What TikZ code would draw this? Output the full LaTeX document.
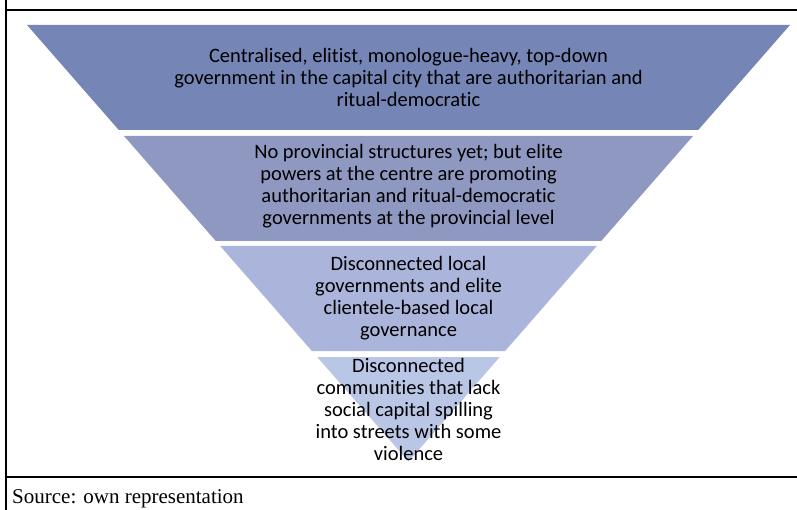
\documentclass[tikz,border=0pt]{standalone}
\usepackage{fontspec}
\setmainfont{Carlito}[Ligatures={NoCommon}]
\newfontfamily\srcfont{Liberation Serif}
\definecolor{bandA}{HTML}{7585B6}
\definecolor{bandB}{HTML}{8F98C1}
\definecolor{bandC}{HTML}{ABB5DB}
\definecolor{bandD}{HTML}{BAC6E6}
\begin{document}
\begin{tikzpicture}[x=1pt,y=-1pt,
  band/.style={draw=none},
  bandtext/.style={align=center,font=\fontsize{20.5}{22}\selectfont,inner sep=0pt,text=black},
  frame/.style={line width=2pt,black}]
\useasboundingbox (0,0) rectangle (797,510);
% frame
\coordinate (ftl) at (6,0);
\coordinate (fbl) at (6,510);
\coordinate (tl) at (6,10);
\coordinate (tr) at (797,10);
\coordinate (ml) at (6,477);
\coordinate (mr) at (797,477);
\draw[frame] (ftl) -- (fbl);
\draw[frame] (tl) -- (tr);
\draw[frame] (ml) -- (mr);
% bands
\fill[bandA] (27,25) -- (790,25) -- (698.2,130) -- (118.8,130) -- cycle;
\fill[bandB] (124,136) -- (693,136) -- (601.2,241) -- (215.8,241) -- cycle;
\fill[bandC] (220.2,246) -- (596.8,246) -- (505.1,351) -- (311.9,351) -- cycle;
\fill[bandD] (317.2,357) -- (499.8,357) -- (408.5,461.5) -- cycle;
% texts
\node[bandtext] (t1) at (408.5,77) {Centralised, elitist, monologue-heavy, top-down\\government in the capital city that are authoritarian and\\ritual-democratic};
\node[bandtext] (t2) at (408.5,186) {No provincial structures yet; but elite\\powers at the centre are promoting\\authoritarian and ritual-democratic\\governments at the provincial level};
\node[bandtext] (t3) at (408.5,298) {Disconnected local\\governments and elite\\clientele-based local\\governance};
\node[bandtext] (t4) at (408.5,409) {Disconnected\\communities that lack\\social capital spilling\\into streets with some\\violence};
\node[anchor=base west,inner sep=0pt,font=\srcfont\fontsize{21}{24}\selectfont] (src) at (12,503) {Source: own representation};
\end{tikzpicture}
\end{document}
